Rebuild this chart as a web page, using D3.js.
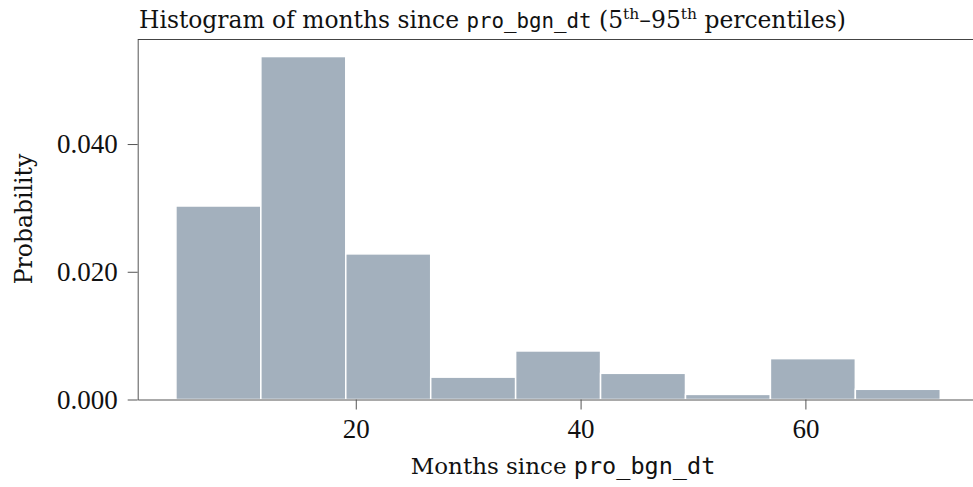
<!DOCTYPE html>
<html>
<head>
<meta charset="utf-8">
<script src="https://cdn.jsdelivr.net/npm/d3@7"></script>
<style>
  html, body { margin: 0; padding: 0; background: #fff; }
  svg { display: block; }
  .serif { font-family: "DejaVu Serif", "Liberation Serif", serif; }
  .num { font-family: "Liberation Serif", "DejaVu Serif", serif; }
  .mono { font-family: "DejaVu Sans Mono", "Liberation Mono", monospace; }
</style>
</head>
<body>
<svg id="chart" width="973" height="487"></svg>
<script>
// Histogram bins (months) and their probability densities
const binEdges = [4.0, 11.556, 19.111, 26.667, 34.222, 41.778, 49.333, 56.889, 64.444, 72.0];
const density = [0.0303, 0.0537, 0.0228, 0.0035, 0.0076, 0.0041, 0.0008, 0.0064, 0.0016];
const xTicks = [20, 40, 60];
const yTicks = [0, 0.02, 0.04];

const svg = d3.select("#chart");
const plotLeft = 137.7, plotRight = 974, plotTop = 39.5, plotBottom = 399.5;

const x = d3.scaleLinear().domain([0.6, 75]).range([plotLeft, plotRight]);
const y = d3.scaleLinear().domain([0, 0.05637]).range([plotBottom, plotTop]);

const bins = density.map((d, i) => ({ x0: binEdges[i], x1: binEdges[i + 1], v: d }));

// bars
svg.append("g")
  .selectAll("rect")
  .data(bins)
  .join("rect")
  .attr("x", d => x(d.x0))
  .attr("y", d => y(d.v))
  .attr("width", d => x(d.x1) - x(d.x0))
  .attr("height", d => y(0) - y(d.v))
  .attr("fill", "#a3b0bd")
  .attr("stroke", "#ffffff")
  .attr("stroke-width", 1.5);

// frame: top border
svg.append("line")
  .attr("x1", plotLeft).attr("x2", plotRight)
  .attr("y1", plotTop).attr("y2", plotTop)
  .attr("stroke", "#444").attr("stroke-width", 1);

// axes
const fmt = d3.format(".3f");
const yAxis = svg.append("g")
  .attr("transform", `translate(${plotLeft},0)`)
  .call(d3.axisLeft(y).tickValues(yTicks).tickFormat(fmt).tickSize(10).tickPadding(10).tickSizeOuter(0));
const xAxis = svg.append("g")
  .attr("transform", `translate(0,${plotBottom})`)
  .call(d3.axisBottom(x).tickValues(xTicks).tickFormat(d3.format("d")).tickSize(10).tickPadding(9).tickSizeOuter(0));

[yAxis, xAxis].forEach(g => {
  g.select(".domain").attr("stroke", "#555");
  g.selectAll(".tick line").attr("stroke", "#555");
  g.selectAll("text")
    .attr("class", "num")
    .attr("font-size", 27)
    .attr("fill", "#111");
});

// y axis label
svg.append("text")
  .attr("class", "serif")
  .attr("transform", "translate(32,219) rotate(-90)")
  .attr("text-anchor", "middle")
  .attr("font-size", 23.5)
  .attr("fill", "#111")
  .text("Probability");

// x axis label
const xl = svg.append("text")
  .attr("class", "serif")
  .attr("x", 563).attr("y", 474)
  .attr("text-anchor", "middle")
  .attr("font-size", 23)
  .attr("fill", "#111");
xl.append("tspan").text("Months since ");
xl.append("tspan").attr("class", "mono").attr("font-size", 23.5).text("pro_bgn_dt");

// title
const t = svg.append("text")
  .attr("class", "serif")
  .attr("x", 139).attr("y", 28)
  .attr("font-size", 23.4)
  .attr("fill", "#111");
t.append("tspan").text("Histogram of months since ");
t.append("tspan").attr("class", "mono").attr("font-size", 20.8).text("pro_bgn_dt");
t.append("tspan").text(" (5");
t.append("tspan").attr("font-size", 15.5).attr("dy", -9).text("th");
t.append("tspan").attr("dy", 9).text("–95");
t.append("tspan").attr("font-size", 15.5).attr("dy", -9).text("th");
t.append("tspan").attr("dy", 9).text(" percentiles)");
</script>
</body>
</html>
